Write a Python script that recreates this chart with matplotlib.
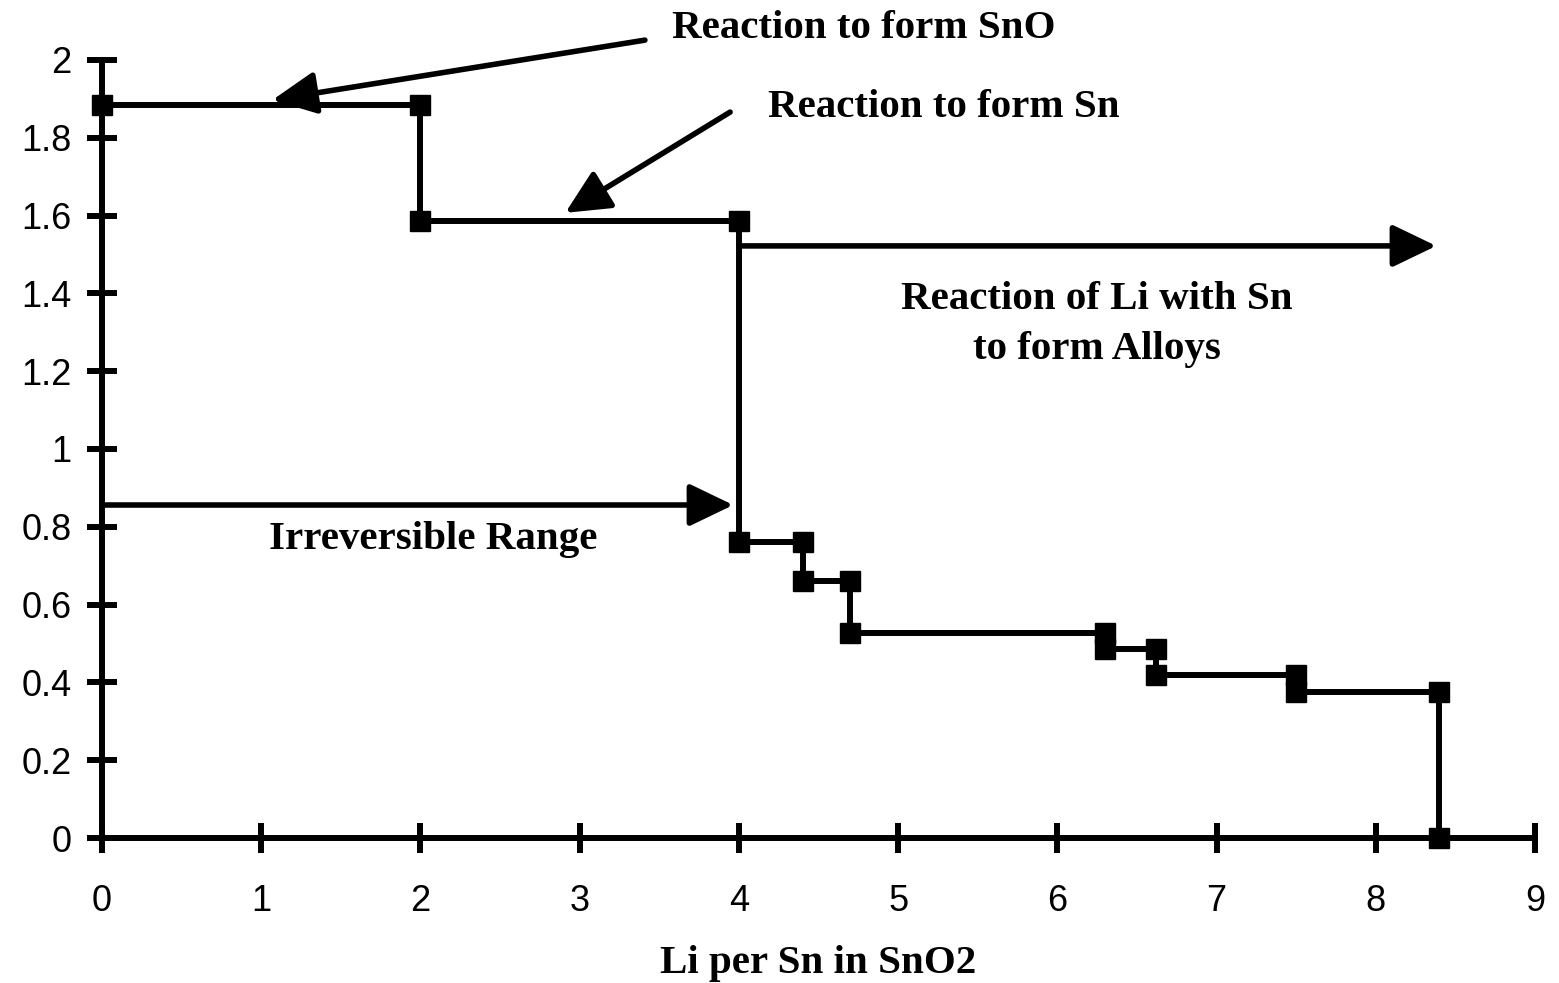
import numpy as np
import matplotlib.pyplot as plt

# step points (Li per Sn, voltage)
li = [0, 2, 2, 4, 4, 4.4, 4.4, 4.7, 4.7, 6.3, 6.3, 6.62, 6.62, 7.5, 7.5, 8.4, 8.4]
volt = [1.885, 1.885, 1.585, 1.585, 0.76, 0.76, 0.66, 0.66, 0.527, 0.527, 0.487,
        0.487, 0.42, 0.42, 0.376, 0.376, 0.0]

xticks = [0, 1, 2, 3, 4, 5, 6, 7, 8, 9]
yticks = [0, 0.2, 0.4, 0.6, 0.8, 1, 1.2, 1.4, 1.6, 1.8, 2]
ylabels = ['0', '0.2', '0.4', '0.6', '0.8', '1', '1.2', '1.4', '1.6', '1.8', '2']

serif = 'Liberation Serif'
fs = 29.5

fig = plt.figure(figsize=(15.59, 9.83), dpi=100)
ax = fig.add_axes([0.0654, 0.1475, 0.9192, 0.7915])

ax.plot(li, volt, '-', color='black', lw=4.3, marker='s', ms=14.5,
        mfc='black', mec='black', clip_on=False, zorder=3)

ax.set_xlim(0, 9)
ax.set_ylim(0, 2)
ax.set_xticks(xticks)
ax.set_yticks(yticks)
ax.set_yticklabels(ylabels)
for s in ['top', 'right']:
    ax.spines[s].set_visible(False)
for s in ['left', 'bottom']:
    ax.spines[s].set_linewidth(4.3)
ax.tick_params(direction='inout', length=22, width=4.3, labelsize=26)
ax.tick_params(axis='y', pad=11)
ax.tick_params(axis='x', pad=22)
for lab in ax.get_xticklabels() + ax.get_yticklabels():
    lab.set_family('Liberation Sans')

ax.set_xlabel('Li per Sn in SnO2', family=serif, fontweight='bold',
              fontsize=fs, labelpad=19)

arr = dict(arrowstyle='-|>,head_length=2.7,head_width=1.3', color='black',
           lw=4, shrinkA=0, shrinkB=0)

ax.annotate('', xy=(1.07, 1.897), xytext=(3.41, 2.051), arrowprops=arr,
            annotation_clip=False)
ax.text(3.58, 2.082, 'Reaction to form SnO', family=serif, fontweight='bold',
        fontsize=fs, va='center', ha='left', clip_on=False)

ax.annotate('', xy=(2.91, 1.607), xytext=(3.945, 1.866), arrowprops=arr)
ax.text(4.18, 1.877, 'Reaction to form Sn', family=serif, fontweight='bold',
        fontsize=fs, va='center', ha='left')

ax.annotate('', xy=(8.38, 1.522), xytext=(4.01, 1.522), arrowprops=arr)
ax.text(6.25, 1.32, 'Reaction of Li with Sn\nto form Alloys', family=serif,
        fontweight='bold', fontsize=fs, va='center', ha='center',
        linespacing=1.45)

ax.annotate('', xy=(3.965, 0.856), xytext=(0, 0.856), arrowprops=arr)
ax.text(2.08, 0.768, 'Irreversible Range', family=serif, fontweight='bold',
        fontsize=fs, va='center', ha='center')

fig.savefig('out.png', dpi=100)
